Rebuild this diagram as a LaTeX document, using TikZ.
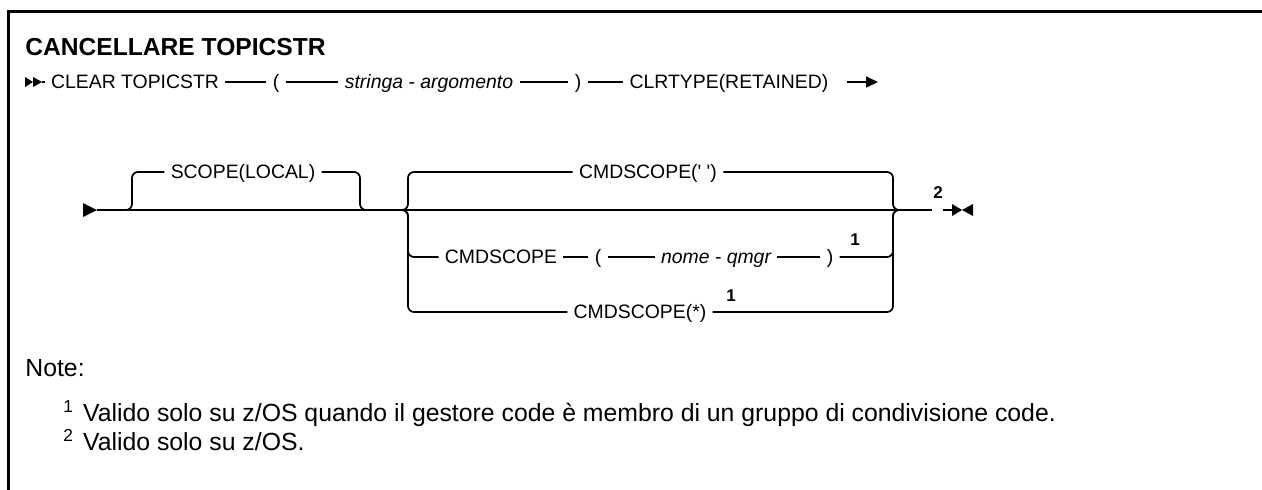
\documentclass[tikz,border=0pt]{standalone}
\usepackage{fontspec}
\setmainfont{Liberation Sans}
\usetikzlibrary{arrows.meta,positioning}

\begin{document}
\begin{tikzpicture}[x=0.5pt, y=-0.5pt, every node/.style={inner sep=0pt}]
\tikzset{rr/.style={font=\fontsize{9.7}{11}\selectfont, inner xsep=3pt, inner ysep=0pt, text height=6.9pt, text depth=0pt}}
\tikzset{var/.style={rr, font=\fontsize{9.7}{11}\selectfont\itshape}}
\tikzset{rail/.style={line width=0.85pt}}
\tikzset{fork/.style={rail, rounded corners=3pt}}
\tikzset{fn/.style={font=\bfseries\fontsize{8.5}{10}\selectfont}}
\tikzset{note/.style={anchor=base west, font=\fontsize{12.4}{15}\selectfont}}
\useasboundingbox (0,0) rectangle (1262,489);
\draw[line width=1.5pt] (8,495) -- (8,11) -- (1270,11);
\node[anchor=base west, font=\bfseries\fontsize{12.3}{15}\selectfont] (title) at (25,55) {CANCELLARE TOPICSTR};
% first line
\coordinate (mk1) at (42,82);
\fill (25,77) -- (33,82) -- (25,87) -- cycle;
\fill (33,77) -- (mk1) -- (33,87) -- cycle;
\node[rr] (clr) at (135,82) {CLEAR TOPICSTR};
\node[rr] (lp1) at (276,82) {(};
\node[var] (arg) at (429,82) {stringa - argomento};
\node[rr] (rp1) at (578,82) {)};
\node[rr] (clrt) at (729,82) {CLRTYPE(RETAINED)};
\coordinate (ar1) at (847,82);
\coordinate (ar2) at (878,82);
\draw[rail] (mk1) -- (clr) -- (lp1) -- (arg) -- (rp1) -- (clrt);
\draw[rail, -{Triangle[length=6pt, width=5.5pt]}] (ar1) -- (ar2);
% second line
\coordinate (s2) at (97,210);
\coordinate (oL) at (124,210);
\coordinate (oR) at (368,210);
\coordinate (chL) at (400,210);
\coordinate (chR) at (901,210);
\coordinate (e2a) at (932,210);
\coordinate (e2b) at (943,210);
\coordinate (endm) at (952,210);
\fill (83,203) -- (s2) -- (83,217) -- cycle;
\draw[rail] (s2) -- (chR) -- (e2a);
\draw[rail] (e2b) -- (endm);
\fill (endm) ++(0,-6) -- (962,210) -- (952,216) -- cycle;
\fill (973,204) -- (962,210) -- (973,216) -- cycle;
\node[rr] (scope) at (243,172) {SCOPE(LOCAL)};
\draw[fork] (oL) -- ++(8,0) |- (scope);
\draw[fork] (oR) -- ++(-8,0) |- (scope);
\node[rr] (cs1) at (648,172) {CMDSCOPE(\textquotesingle\ \textquotesingle)};
\node[rr] (cs2) at (501,257) {CMDSCOPE};
\node[rr] (lp2) at (598,257) {(};
\node[var] (qm) at (716,257) {nome - qmgr};
\node[rr] (rp2) at (830,257) {)};
\node[rr] (cs3) at (640,312) {CMDSCOPE(*)};
\node[fn] (f1a) at (855,240) {1};
\node[fn] (f1b) at (731,296) {1};
\node[fn] (f2) at (938,193) {2};
\draw[rail] (cs2) -- (lp2) -- (qm) -- (rp2);
\foreach \b in {cs1,cs2,cs3} \draw[fork] (chL) -- ++(8,0) |- (\b);
\foreach \b in {cs1,rp2,cs3} \draw[fork] (chR) -- ++(-8,0) |- (\b);
% notes
\node[note] (nt) at (25,376) {Note:};
\node[note] (n1) at (63,421) {\textsuperscript{1}\hspace{4.5pt}Valido solo su z/OS quando il gestore code è membro di un gruppo di condivisione code.};
\node[note] (n2) at (63,450) {\textsuperscript{2}\hspace{4.5pt}Valido solo su z/OS.};
\end{tikzpicture}
\end{document}
